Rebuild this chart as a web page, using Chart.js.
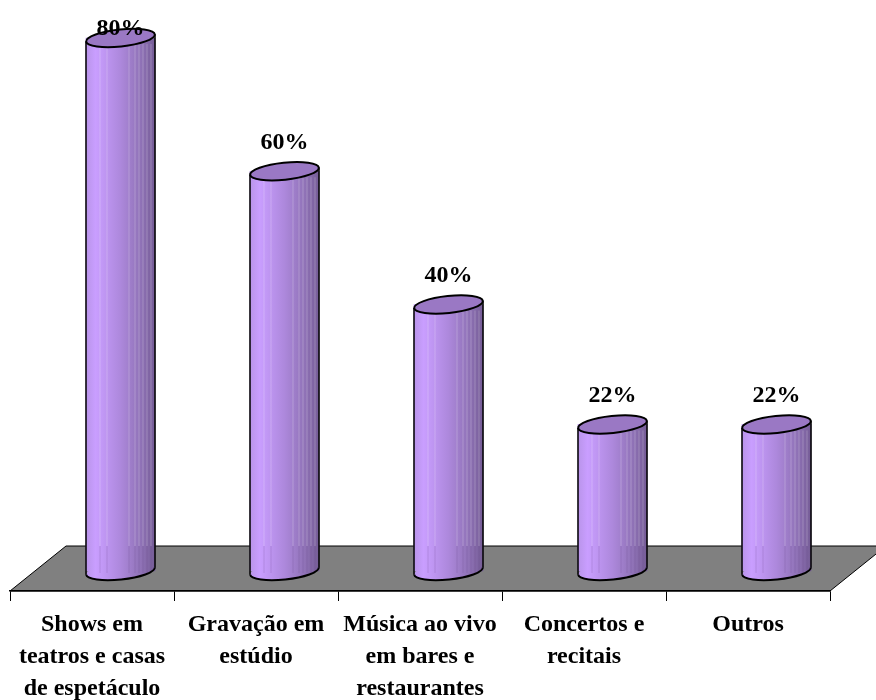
<!DOCTYPE html>
<html>
<head>
<meta charset="utf-8">
<title>Grafico</title>
<script src="https://cdn.jsdelivr.net/npm/chart.js@4"></script>
<style>
  html, body { margin: 0; padding: 0; background: #fff; }
  #box { width: 876px; height: 700px; position: relative; overflow: hidden; }
</style>
</head>
<body>
<div id="box"><canvas id="grafico"></canvas></div>
<script>
const categorias = [
    ['Shows em', 'teatros e casas', 'de espetáculo'],
    ['Gravação em', 'estúdio'],
    ['Música ao vivo', 'em bares e', 'restaurantes'],
    ['Concertos e', 'recitais'],
    ['Outros']
];
const valores = [80, 60, 40, 22, 22];

const LARGURA_BARRA = 69;
const DESLOC_3D = 28.5;   // barras ficam para tras no piso
const FONTE = "'Liberation Serif', 'Times New Roman', serif";

// degrade do cilindro
function degrade(ctx, cx) {
    const g = ctx.createLinearGradient(cx - LARGURA_BARRA / 2, 0, cx + LARGURA_BARRA / 2, 0);
    g.addColorStop(0, '#b994ea');
    g.addColorStop(0.14, '#c99eff');
    g.addColorStop(0.5, '#ad88dc');
    g.addColorStop(0.8, '#8f72b6');
    g.addColorStop(1, '#755c96');
    return g;
}

function elipse(ctx, cx, cy, inicio, fim) {
    ctx.ellipse(cx, cy, LARGURA_BARRA / 2, 8.5, -6 * Math.PI / 180, inicio, fim);
}

const cilindro = {
    id: 'cilindro',
    // piso cinza
    beforeDraw(chart) {
        const { ctx, chartArea: a } = chart;
        ctx.save();
        ctx.beginPath();
        ctx.moveTo(a.left, a.bottom);
        ctx.lineTo(a.right, a.bottom);
        ctx.lineTo(a.right + 56, a.bottom - 45);
        ctx.lineTo(a.left + 56, a.bottom - 45);
        ctx.closePath();
        ctx.fillStyle = '#808080';
        ctx.fill();
        ctx.strokeStyle = '#000';
        ctx.lineWidth = 1;
        ctx.stroke();
        ctx.restore();
    },
    beforeDatasetsDraw(chart) {
        chart.ctx.save();
        chart.ctx.translate(DESLOC_3D, 0);
    },
    afterDatasetsDraw(chart) {
        const { ctx, scales } = chart;
        const pisoY = chart.chartArea.bottom - 45;
        const base = scales.y.getPixelForValue(0);
        const meia = LARGURA_BARRA / 2;
        const tilt = meia * Math.tan(6 * Math.PI / 180);
        valores.forEach((v, i) => {
            const cx = scales.x.getPixelForValue(i);
            const topo = scales.y.getPixelForValue(v);

            // fundo arredondado
            ctx.beginPath();
            elipse(ctx, cx, base, 0, Math.PI * 2);
            ctx.fillStyle = degrade(ctx, cx);
            ctx.fill();

            // listras
            [0.2, 0.3, 0.62, 0.7, 0.76, 0.82, 0.88, 0.94].forEach((f) => {
                const x = Math.round(cx - meia + f * LARGURA_BARRA) + 0.5;
                ctx.lineWidth = 1;
                ctx.beginPath();
                ctx.moveTo(x, topo + 6);
                ctx.lineTo(x, pisoY);
                ctx.strokeStyle = 'rgba(255,255,255,0.22)';
                ctx.stroke();
                ctx.beginPath();
                ctx.moveTo(x, pisoY);
                ctx.lineTo(x, base + 2);
                ctx.strokeStyle = 'rgba(90,60,130,0.18)';
                ctx.stroke();
            });

            // contorno lateral e de baixo
            ctx.beginPath();
            ctx.moveTo(cx - meia, topo + tilt);
            ctx.lineTo(cx - meia, base + tilt);
            ctx.moveTo(cx + meia, topo - tilt);
            ctx.lineTo(cx + meia, base - tilt);
            ctx.strokeStyle = '#000';
            ctx.lineWidth = 1.5;
            ctx.stroke();
            ctx.beginPath();
            elipse(ctx, cx, base, 0, Math.PI);
            ctx.lineWidth = 2;
            ctx.stroke();

            // tampa
            ctx.beginPath();
            elipse(ctx, cx, topo, 0, Math.PI * 2);
            ctx.fillStyle = '#9a78c4';
            ctx.fill();
            ctx.lineWidth = 2;
            ctx.stroke();

            // rotulo de valor
            ctx.fillStyle = '#000';
            ctx.font = 'bold 24px ' + FONTE;
            ctx.textAlign = 'center';
            ctx.textBaseline = 'alphabetic';
            ctx.fillText(v + '%', cx, Math.max(35, topo - 22));
        });
        ctx.restore();
    }
};

new Chart(document.getElementById('grafico'), {
    type: 'bar',
    data: {
        labels: categorias,
        datasets: [{
            data: valores,
            barThickness: LARGURA_BARRA,
            borderWidth: 0,
            backgroundColor: function (c) {
                const x = c.chart.scales.x;
                const px = x ? x.getPixelForValue(c.dataIndex) : NaN;
                if (!isFinite(px)) return '#ad88dc';
                return degrade(c.chart.ctx, px);
            }
        }]
    },
    options: {
        responsive: true,
        maintainAspectRatio: false,
        animation: false,
        layout: { padding: { left: 10, right: 46, top: 0, bottom: 0 } },
        plugins: { legend: { display: false }, tooltip: { enabled: false } },
        scales: {
            y: { display: false, min: -3, max: 85.7 },
            x: {
                offset: true,
                afterFit: function (s) { s.height = 109; },
                border: { display: true, color: '#000', width: 1.5 },
                grid: { display: true, drawOnChartArea: false, color: '#000', tickLength: 10, lineWidth: 1 },
                ticks: {
                    color: '#000',
                    padding: 8,
                    autoSkip: false,
                    maxRotation: 0,
                    minRotation: 0,
                    font: { family: FONTE, size: 24, weight: 'bold', lineHeight: 1.333 }
                }
            }
        }
    },
    plugins: [cilindro]
});
</script>
</body>
</html>
